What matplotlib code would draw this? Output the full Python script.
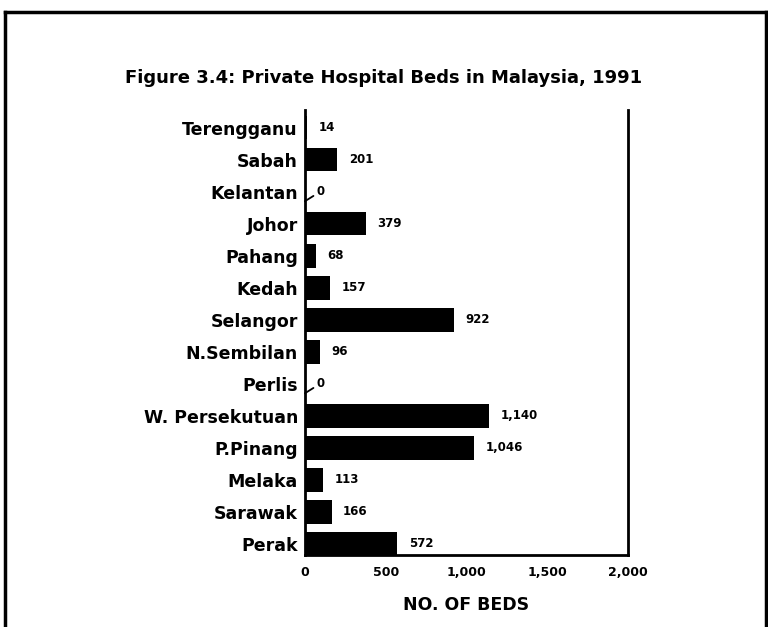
import matplotlib.pyplot as plt
from matplotlib.lines import Line2D

plt.rcParams['font.family'] = ['DejaVu Sans']

states = ['Terengganu', 'Sabah', 'Kelantan', 'Johor', 'Pahang', 'Kedah',
          'Selangor', 'N.Sembilan', 'Perlis', 'W. Persekutuan', 'P.Pinang',
          'Melaka', 'Sarawak', 'Perak']
beds = [14, 201, 0, 379, 68, 157, 922, 96, 0, 1140, 1046, 113, 166, 572]
xticks = [0, 500, 1000, 1500, 2000]
xtick_labels = ['0', '500', '1,000', '1,500', '2,000']

fig = plt.figure(figsize=(7.68, 6.27), dpi=100)

# outer border of the page figure
for xs, ys in [([0.006, 0.006], [0.0, 0.981]),
               ([0.006, 0.997], [0.981, 0.981]),
               ([0.997, 0.997], [0.0, 0.981])]:
    fig.add_artist(Line2D(xs, ys, color='black', lw=2.5,
                          transform=fig.transFigure))

ax = fig.add_axes([0.397, 0.115, 0.421, 0.71])

n = len(states)
ypos = [n - 1 - i for i in range(n)]
ax.barh(ypos, beds, height=0.74, color='black')

for y, v in zip(ypos, beds):
    lab = f'{v:,}'
    if v == 0:
        ax.annotate(lab, xy=(0, y - 0.3), xytext=(70, y),
                    fontsize=8.5, fontweight='bold', va='center', ha='left',
                    arrowprops=dict(arrowstyle='-', color='black', lw=1.3,
                                    shrinkA=0, shrinkB=0))
    else:
        ax.text(v + 70, y, lab, fontsize=8.5, fontweight='bold',
                va='center', ha='left')

ax.set_yticks(ypos)
ax.set_yticklabels(states, fontsize=12.5, fontweight='bold')
ax.set_xticks(xticks)
ax.set_xticklabels(xtick_labels, fontsize=9, fontweight='bold')
ax.tick_params(axis='y', length=0, pad=5)
ax.tick_params(axis='x', length=0, pad=8)
ax.set_xlim(0, 2000)
ax.set_ylim(-0.35, n - 1 + 0.56)

for s in ['left', 'bottom', 'right']:
    ax.spines[s].set_linewidth(2)
ax.spines['top'].set_visible(False)

ax.set_xlabel('NO. OF BEDS', fontsize=12.5, fontweight='bold', labelpad=12)
fig.text(0.5, 0.875, 'Figure 3.4: Private Hospital Beds in Malaysia, 1991',
         ha='center', va='center', fontsize=13, fontweight='bold')

fig.savefig('out.png', dpi=100)
